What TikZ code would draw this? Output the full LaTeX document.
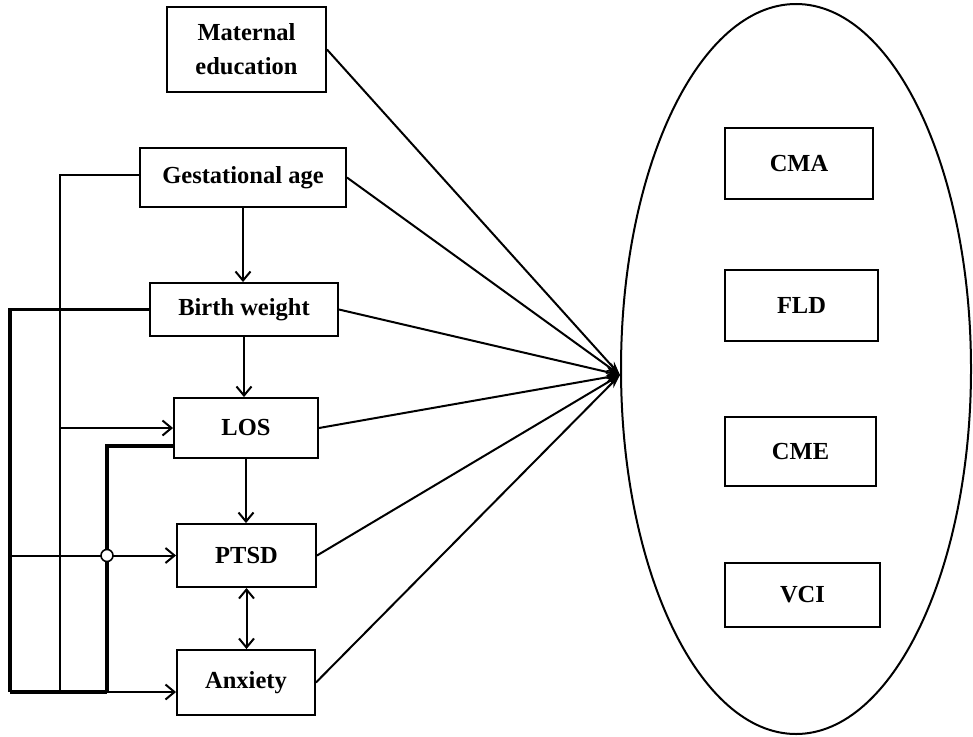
\documentclass[tikz,border=0pt]{standalone}
\usepackage{fontspec}
\setmainfont{Liberation Serif}
\usetikzlibrary{arrows.meta,shapes.geometric,calc}
\begin{document}
\begin{tikzpicture}[x=1pt,y=-1pt,
  box/.style={draw,line width=1.9pt,inner sep=0pt,font=\fontsize{24.5}{34}\selectfont\bfseries,align=center},
  thinln/.style={line width=2pt},
  thickln/.style={line width=3.2pt},
  barb/.style={-{Straight Barb[length=9pt,width=15pt,line width=2pt]}},
  dbarb/.style={{Straight Barb[length=9pt,width=15pt,line width=2pt]}-{Straight Barb[length=9pt,width=15pt,line width=2pt]}},
  tohub/.style={line width=2pt,-{Stealth[length=14pt,width=9pt]}}]
\useasboundingbox (0,0) rectangle (973,736);
% outcome ellipse
\node[draw,ellipse,line width=2pt,minimum width=350pt,minimum height=730pt,inner sep=0pt] (ell) at (796,369) {};
\node[box,minimum width=148pt,minimum height=71pt] (cma) at (799,163.5) {CMA};
\node[box,minimum width=153pt,minimum height=71pt] (fld) at (801.5,305.5) {FLD};
\node[box,minimum width=151pt,minimum height=69pt] (cme) at (800.5,451.5) {CME};
\node[box,minimum width=155pt,minimum height=64pt] (vci) at (802.5,595) {VCI};
% predictor boxes
\node[box,minimum width=159pt,minimum height=85pt] (me) at (246.5,49.5) {Maternal\\education};
\node[box,minimum width=206pt,minimum height=59pt] (ga) at (243,177.5) {Gestational age};
\node[box,minimum width=188pt,minimum height=53pt] (bw) at (244,309.5) {Birth weight};
\node[box,minimum width=144pt,minimum height=60pt] (los) at (246,428) {LOS};
\node[box,minimum width=139pt,minimum height=63pt] (pt) at (246.5,555.5) {PTSD};
\node[box,minimum width=138pt,minimum height=65pt] (anx) at (246,682.5) {Anxiety};
% hub
\coordinate (hub) at (620,375);
\foreach \n in {me,ga,bw,los,pt,anx}{\draw[tohub] (\n.east) -- (hub);}
% vertical chain
\draw[thinln,barb] (ga.south) -- (ga.south |- bw.north);
\draw[thinln,barb] (bw.south) -- (bw.south |- los.north);
\draw[thinln,barb] (los.south) -- (los.south |- pt.north);
\draw[thinln,dbarb] (pt.south) -- (pt.south |- anx.north);
% left routing
\coordinate (cga) at (60,692);
\coordinate (cbw) at (10,692);
\coordinate (clos) at (107,692);
\draw[thinln] ([yshift=3pt]ga.west) -| (cga);
\draw[thickln] (bw.west) -| (cbw);
\draw[thickln] ([yshift=13pt]los.south west) -| (clos);
\draw[thinln,barb] (cga |- los.west) -- (los.west);
\draw[thinln,barb] (cbw |- pt.west) -- (pt.west);
\draw[thickln] (cbw) -- (clos);
\draw[thinln,barb] (clos) -- (anx.west |- clos);
\draw[line width=1.6pt,fill=white] (clos |- pt.west) circle (6pt);
\end{tikzpicture}
\end{document}
